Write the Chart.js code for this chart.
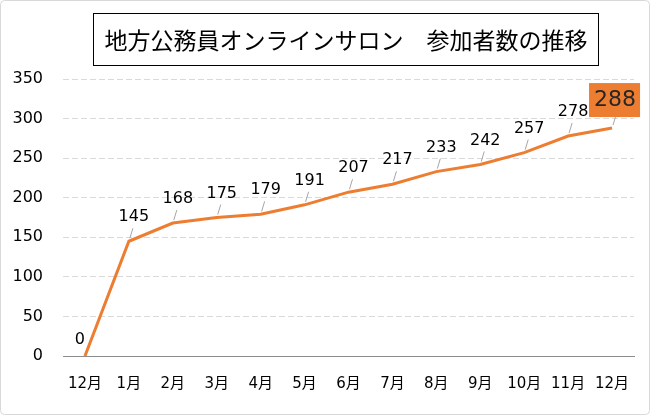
<!DOCTYPE html>
<html>
<head>
<meta charset="utf-8">
<script src="https://cdn.jsdelivr.net/npm/chart.js@4/dist/chart.umd.min.js"></script>
<style>
  html, body { margin:0; padding:0; background:#fff; }
  #wrap { width:650px; height:415px; position:relative; }
</style>
</head>
<body>
<div id="wrap"><canvas id="c" width="650" height="415"></canvas></div>
<script>
const titleText = '地方公務員オンラインサロン　参加者数の推移';
const months = ['12月','1月','2月','3月','4月','5月','6月','7月','8月','9月','10月','11月','12月'];
const members = [0,145,168,175,179,191,207,217,233,242,257,278,288];
const yTicks = [0,50,100,150,200,250,300,350];

const ORANGE = '#ED7D31';
const FAMILY = '"DejaVu Sans", "Noto Sans CJK JP", sans-serif';
const labelFont = '16px ' + FAMILY;

// box title + outer border
const frame = {
  id:'frame',
  beforeDraw(chart) {
    const c = chart.ctx;
    c.save();
    c.fillStyle = '#fff';
    c.fillRect(0,0,chart.width,chart.height);
    c.strokeStyle = '#d9d9d9';
    c.lineWidth = 1;
    c.beginPath();
    c.roundRect(0.5,0.5,chart.width-1,chart.height-1,4);
    c.stroke();
    c.restore();
  },
  afterDraw(chart) {
    const c = chart.ctx;
    c.save();
    c.fillStyle = '#fff';
    c.fillRect(93,13,505,52);
    c.strokeStyle = '#000';
    c.lineWidth = 1;
    c.strokeRect(93.5,13.5,505,52);
    c.fillStyle = '#000';
    c.font = '23px "Noto Sans CJK JP", sans-serif';
    c.textAlign = 'center';
    c.textBaseline = 'middle';
    c.fillText(titleText, 346, 40);
    c.restore();
  }
};

// data labels with short leader lines
const valueLabels = {
  id:'valueLabels',
  afterDatasetsDraw(chart) {
    const c = chart.ctx;
    const pts = chart.getDatasetMeta(0).data;
    const last = pts.length - 1;
    c.save();
    c.textAlign = 'center';
    c.textBaseline = 'middle';
    pts.forEach((p, i) => {
      const v = members[i];
      if (i === 0) {
        c.fillStyle = '#000';
        c.font = labelFont;
        c.fillText(String(v), p.x - 5, p.y - 16);
        return;
      }
      c.strokeStyle = '#a6a6a6';
      c.lineWidth = 1;
      c.beginPath();
      c.moveTo(p.x + 1, p.y - 3);
      c.lineTo(p.x + 4, p.y - 13);
      c.stroke();
      if (i === last) {
        c.fillStyle = ORANGE;
        c.fillRect(p.x - 23, p.y - 45, 51, 34);
        c.fillStyle = '#262626';
        c.font = '22px ' + FAMILY;
        c.fillText(String(v), p.x + 3, p.y - 28);
      } else {
        c.fillStyle = '#000';
        c.font = labelFont;
        c.fillText(String(v), p.x + 5, p.y - 24);
      }
    });
    c.restore();
  }
};

new Chart(document.getElementById('c'), {
  type:'line',
  data:{
    labels: months,
    datasets:[{
      data: members,
      borderColor: ORANGE,
      borderWidth: 3,
      pointRadius: 0,
      tension: 0,
      fill: false
    }]
  },
  options:{
    responsive:false,
    animation:false,
    layout:{ padding:{ left:0, right:16, top:79, bottom:0 } },
    plugins:{ legend:{display:false}, title:{display:false}, tooltip:{enabled:false} },
    scales:{
      x:{
        offset:true,
        grid:{ display:false, drawTicks:false },
        border:{ display:true, color:'#8c8c8c', width:1 },
        ticks:{ color:'#000', font:{ family:FAMILY, size:15 }, padding:19, maxRotation:0, autoSkip:false },
        afterFit(s) { s.height = 59; }
      },
      y:{
        min:0, max:350,
        afterBuildTicks(s) { s.ticks = yTicks.map(v => ({value:v})); },
        grid:{ color:'#d9d9d9', lineWidth:1, drawTicks:false },
        border:{ display:false, dash:[6,3] },
        ticks:{ color:'#000', font:{ family:FAMILY, size:16 }, padding:20 },
        afterFit(s) { s.width = 63; }
      }
    }
  },
  plugins:[frame, valueLabels]
});
</script>
</body>
</html>
